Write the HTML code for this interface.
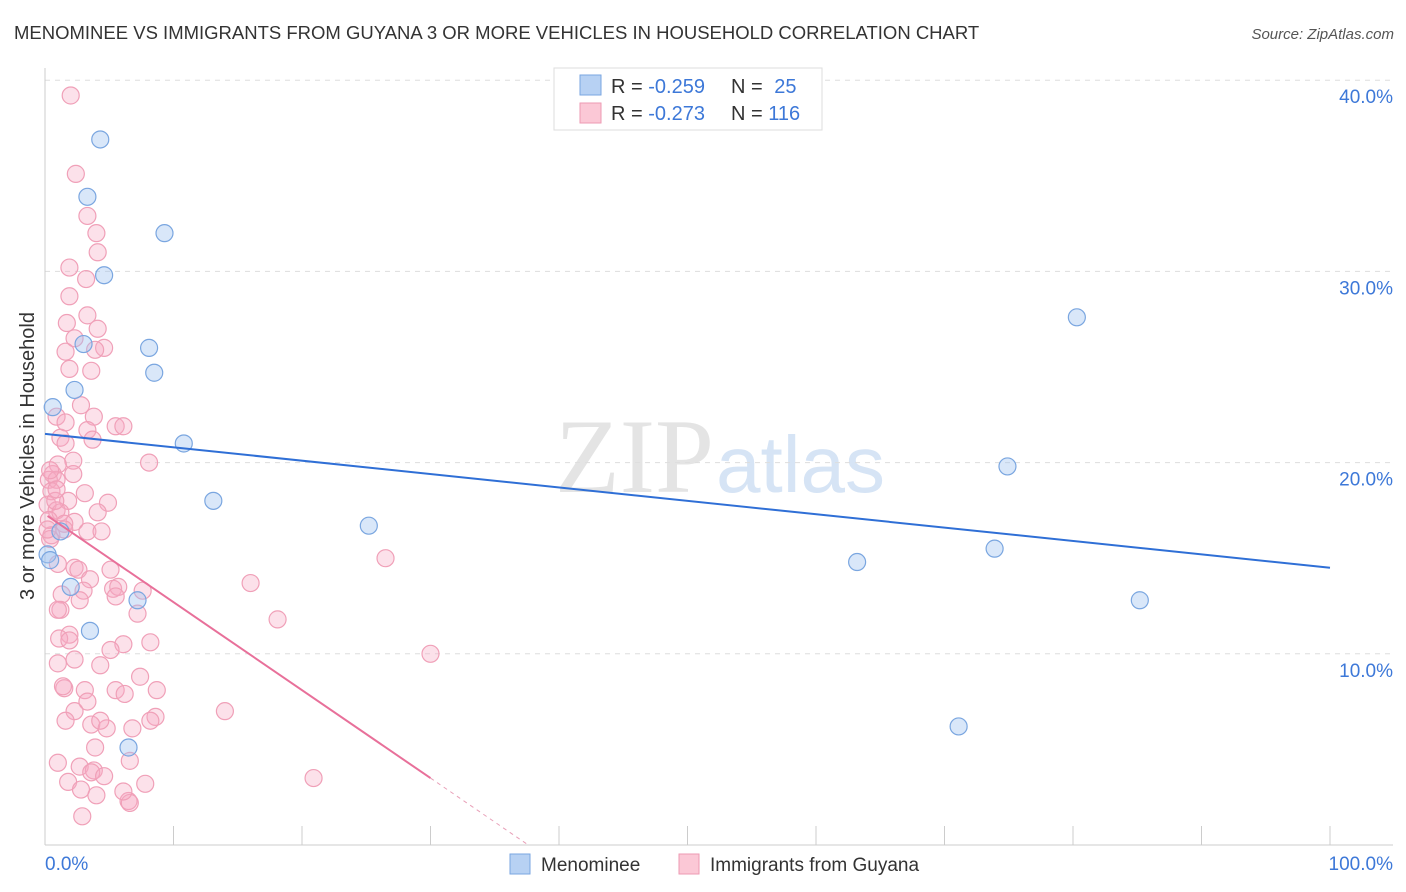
<!DOCTYPE html>
<html><head><meta charset="utf-8"><style>
body{margin:0;background:#fff;font-family:"Liberation Sans",sans-serif;}
svg{display:block}
</style></head><body>
<svg id="chart" width="1406" height="892">
<text x="14" y="39" font-size="18.5" fill="#333">MENOMINEE VS IMMIGRANTS FROM GUYANA 3 OR MORE VEHICLES IN HOUSEHOLD CORRELATION CHART</text>
<text x="1394" y="39" font-size="15" fill="#555" font-style="italic" text-anchor="end">Source: ZipAtlas.com</text>
<text x="714" y="492" font-size="106" fill="#e4e4e4" text-anchor="end" font-family="Liberation Serif">ZIP</text>
<text x="716" y="492" font-size="80" fill="#d6e4f5">atlas</text>
<text transform="translate(34,456) rotate(-90)" font-size="20" fill="#333" text-anchor="middle">3 or more Vehicles in Household</text>
<g id="grid"></g><g id="marks"></g>
<g>
<rect x="554" y="68" width="268" height="62" fill="#fff" stroke="#ddd"/>
<rect x="580" y="75" width="21" height="20" fill="#b7d1f3" stroke="#7aa6e0"/>
<rect x="580" y="103" width="21" height="20" fill="#fbc8d6" stroke="#ee9ab3"/>
<text x="611" y="93" font-size="20" fill="#333">R = <tspan fill="#3d78d8">-0.259</tspan></text>
<text x="731" y="93" font-size="20" fill="#333">N = <tspan fill="#3d78d8" dx="6">25</tspan></text>
<text x="611" y="120" font-size="20" fill="#333">R = <tspan fill="#3d78d8">-0.273</tspan></text>
<text x="731" y="120" font-size="20" fill="#333">N = <tspan fill="#3d78d8">116</tspan></text>
</g>
<g>
<rect x="510" y="854" width="20" height="20" fill="#b7d1f3" stroke="#7aa6e0"/>
<text x="541" y="871" font-size="19" fill="#333">Menominee</text>
<rect x="679" y="854" width="20" height="20" fill="#fbc8d6" stroke="#ee9ab3"/>
<text x="710" y="871" font-size="19" fill="#333">Immigrants from Guyana</text>
</g>
</svg>
<script>
const blueX=[4.3,3.3,9.3,4.6,3.0,8.1,8.5,2.3,0.6,10.8,13.1,25.2,1.2,0.2,2.0,7.2,3.5,6.5,63.2,73.9,74.9,80.3,85.2,71.1,0.4];
const blueY=[36.9,33.9,32.0,29.8,26.2,26.0,24.7,23.8,22.9,21.0,18.0,16.7,16.4,15.2,13.5,12.8,11.2,5.1,14.8,15.5,19.8,27.6,12.8,6.2,14.9];
const pinkX=[2.0,2.4,3.3,4.0,4.1,1.9,3.2,1.9,3.3,1.7,4.1,2.3,1.6,4.6,1.9,3.6,2.8,0.9,3.8,1.6,5.5,6.1,3.3,1.2,3.7,1.6,2.2,1.0,8.1,0.6,2.2,0.3,0.9,0.5,3.1,1.8,4.9,0.2,0.9,1.2,4.1,2.3,1.5,3.3,4.4,0.5,0.4,1.0,2.3,2.6,5.1,3.5,5.3,5.7,16.0,3.0,7.6,5.5,1.3,26.5,7.2,1.2,1.0,18.1,1.9,1.1,6.1,8.2,1.0,2.3,4.3,7.4,1.5,1.4,3.1,8.7,5.5,6.2,3.3,2.3,14.0,8.6,8.2,3.6,6.8,4.8,30.0,3.9,6.6,1.0,2.7,3.8,3.6,4.6,1.8,7.8,20.9,2.8,4.0,6.5,6.6,2.9,0.3,0.4,0.8,1.5,0.9,4.3,6.1,3.9,1.6,5.1,2.7,1.9,0.2];
const pinkY=[39.2,35.1,32.9,32.0,31.0,30.2,29.6,28.7,27.7,27.3,27.0,26.5,25.8,26.0,24.9,24.8,23.0,22.4,22.4,22.1,21.9,21.9,21.7,21.3,21.2,21.0,20.1,19.9,20.0,19.4,19.4,19.1,19.1,18.5,18.4,18.0,17.9,17.8,17.5,17.4,17.4,16.9,16.8,16.4,16.4,16.2,16.0,14.7,14.5,14.4,14.4,13.9,13.4,13.5,13.7,13.3,13.3,13.0,13.1,15.0,12.1,12.3,12.3,11.8,11.0,10.8,10.5,10.6,9.5,9.7,9.4,8.8,8.2,8.3,8.1,8.1,8.1,7.9,7.5,7.0,7.0,6.7,6.5,6.3,6.1,6.1,10.0,5.1,4.4,4.3,4.1,3.9,3.8,3.6,3.3,3.2,3.5,2.9,2.6,2.3,2.2,1.5,17.0,19.6,18.0,16.5,18.6,6.5,2.8,25.9,6.5,10.2,12.8,10.7,16.5];
const yTicks=[10,20,30,40];
const yTickLabels=["10.0%","20.0%","30.0%","40.0%"];
const xTickVals=[0,10,20,30,40,50,60,70,80,90,100];
const blueTrend=[21.5,14.5];
const pinkTrend=[17.3,-0.46];
const NS="http://www.w3.org/2000/svg";
const sx=v=>45+v*12.85, sy=v=>845-v*19.12;
function mk(t,a,p){const e=document.createElementNS(NS,t);for(const k in a)e.setAttribute(k,a[k]);p.appendChild(e);return e;}
const grid=document.getElementById('grid'),marks=document.getElementById('marks');
yTicks.forEach((t,i)=>{
 const l=mk('line',{x1:45,x2:1393,y1:sy(t),y2:sy(t),stroke:'#ddd','stroke-dasharray':'5,5'},grid);
 
 
 const tx=mk('text',{x:1393,y:sy(t)+23,'font-size':19,fill:'#3d78d8','text-anchor':'end'},grid);
 tx.textContent=yTickLabels[i];
 
 
});
const ax=mk('line',{x1:45,x2:1393,y1:845,y2:845,stroke:'#ccc'},grid);


const ay=mk('line',{x1:45,x2:45,y1:68,y2:845,stroke:'#ccc'},grid);


xTickVals.forEach(v=>{const t=mk('line',{x1:sx(v),x2:sx(v),y1:845,y2:826,stroke:'#ccc'},grid);
 
 });
const xl0=mk('text',{x:45,y:870,'font-size':19,fill:'#3d78d8'},grid);xl0.textContent='0.0%';


const xl1=mk('text',{x:1393,y:870,'font-size':19,fill:'#3d78d8','text-anchor':'end'},grid);xl1.textContent='100.0%';


pinkX.forEach((x,i)=>{const c=mk('circle',{cx:sx(x),cy:sy(pinkY[i]),r:8.5,fill:'rgba(247,170,195,0.35)',stroke:'#f0a0b8','stroke-width':1.2},marks);
 
 });
blueX.forEach((x,i)=>{const c=mk('circle',{cx:sx(x),cy:sy(blueY[i]),r:8.5,fill:'rgba(160,195,240,0.4)',stroke:'#7aa6e0','stroke-width':1.2},marks);
 
 });
const bl=mk('line',{x1:sx(0),y1:sy(blueTrend[0]),x2:sx(100),y2:sy(blueTrend[1]),stroke:'#2f6fd6','stroke-width':2},marks);


const pe=30,pz=-pinkTrend[0]/pinkTrend[1];
const pl=mk('line',{x1:sx(0.2),y1:sy(pinkTrend[0]+pinkTrend[1]*0.2),x2:sx(pe),y2:sy(pinkTrend[0]+pinkTrend[1]*pe),stroke:'#e8709a','stroke-width':2},marks);


const pd=mk('line',{x1:sx(pe),y1:sy(pinkTrend[0]+pinkTrend[1]*pe),x2:sx(pz),y2:sy(0),stroke:'#e8a0b8','stroke-width':1,'stroke-dasharray':'4,4'},marks);


</script>
</body></html>
